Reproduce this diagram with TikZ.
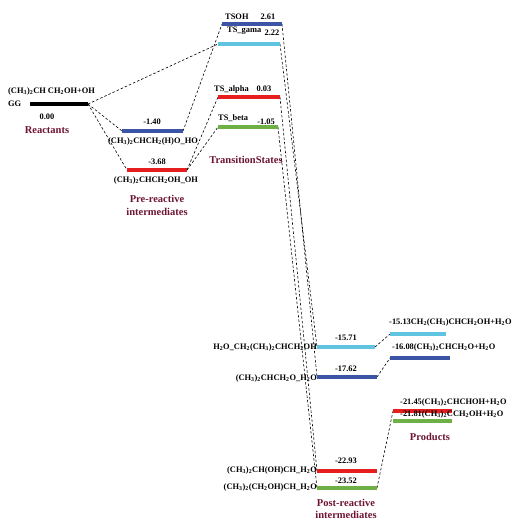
\documentclass[tikz,border=0pt]{standalone}
\usepackage{fontspec}
\setmainfont{Liberation Serif}
\newcommand{\sbs}[1]{\textsubscript{#1}}
\definecolor{cblue}{RGB}{60,84,165}
\definecolor{ccyan}{RGB}{96,196,224}
\definecolor{cred}{RGB}{230,30,30}
\definecolor{cgreen}{RGB}{110,176,70}
\definecolor{cmaroon}{RGB}{110,20,50}
\tikzset{
  bar/.style={line width=3.8pt},
  conn/.style={dash pattern=on 2.5pt off 2pt, line width=0.6pt, black},
  lab/.style={font=\fontsize{8.4}{9}\selectfont\bfseries, inner sep=0pt},
  grouplab/.style={font=\fontsize{10.5}{11}\selectfont\bfseries, text=cmaroon, inner sep=0pt},
}
\begin{document}
\begin{tikzpicture}[x=1pt,y=-1pt]
\useasboundingbox (0,0) rectangle (512,522);
% level end points
\coordinate (ggL) at (30,104);   \coordinate (ggR) at (88,104);
\coordinate (p1L) at (122,131);  \coordinate (p1R) at (183,131);
\coordinate (p2L) at (127,170);  \coordinate (p2R) at (187,170);
\coordinate (tohL) at (222,24);  \coordinate (tohR) at (282,24);
\coordinate (tgL) at (218,44);   \coordinate (tgR) at (280,44);
\coordinate (taL) at (218,97);   \coordinate (taR) at (280,97);
\coordinate (tbL) at (218,127);  \coordinate (tbR) at (278,127);
\coordinate (q1L) at (317,347);  \coordinate (q1R) at (375,347);
\coordinate (q2L) at (317,377);  \coordinate (q2R) at (377,377);
\coordinate (q3L) at (317,471);  \coordinate (q3R) at (377,471);
\coordinate (q4L) at (317,488);  \coordinate (q4R) at (377,488);
\coordinate (r1L) at (390,334);  \coordinate (r1R) at (446,334);
\coordinate (r2L) at (390,358);  \coordinate (r2R) at (450,358);
\coordinate (r3L) at (393,411);  \coordinate (r3R) at (452,411);
\coordinate (r4L) at (393,421);  \coordinate (r4R) at (452,421);
% connectors
\draw[conn] (ggR) -- (tgL);
\draw[conn] (ggR) -- (p1L);
\draw[conn] (ggR) -- (p2L);
\draw[conn] (p1R) -- (tohL);
\draw[conn] (p2R) -- (taL);
\draw[conn] (p2R) -- (tbL);
\draw[conn] (tohR) -- (q2L);
\draw[conn] (tgR) -- (q1L);
\draw[conn] (taR) -- (q3L);
\draw[conn] (tbR) -- (q4L);
\draw[conn] (q1R) -- (r1L);
\draw[conn] (q2R) -- (r2L);
\draw[conn] (q4R) -- (r3L);
% bars
\draw[bar,black] (ggL) -- (ggR);
\draw[bar,cblue] (p1L) -- (p1R);
\draw[bar,cred] (p2L) -- (p2R);
\draw[bar,cblue] (tohL) -- (tohR);
\draw[bar,ccyan] (tgL) -- (tgR);
\draw[bar,cred] (taL) -- (taR);
\draw[bar,cgreen] (tbL) -- (tbR);
\draw[bar,ccyan] (q1L) -- (q1R);
\draw[bar,cblue] (q2L) -- (q2R);
\draw[bar,cred] (q3L) -- (q3R);
\draw[bar,cgreen] (q4L) -- (q4R);
\draw[bar,ccyan] (r1L) -- (r1R);
\draw[bar,cblue] (r2L) -- (r2R);
\draw[bar,cred] (r3L) -- (r3R);
\draw[bar,cgreen] (r4L) -- (r4R);
% reactants
\node[lab,anchor=west] (tR1) at (8,91) {(CH\sbs{3})\sbs{2}CH CH\sbs{2}OH+OH};
\node[lab,anchor=west] (tGG) at (8,104) {GG};
\node[lab] (tR2) at (47,117) {0.00};
\node[grouplab] (cR) at (47,130) {Reactants};
% pre-reactive
\node[lab] (tP1e) at (152,122) {-1.40};
\node[lab] (tP1) at (153,141) {(CH\sbs{3})\sbs{2}CHCH\sbs{2}(H)O\_HO};
\node[lab] (tP2e) at (157,162) {-3.68};
\node[lab] (tP2) at (156,180) {(CH\sbs{3})\sbs{2}CHCH\sbs{2}OH\_OH};
\node[grouplab] (cP1) at (157,199) {Pre-reactive};
\node[grouplab] (cP2) at (157,212) {intermediates};
% transition states
\node[lab,anchor=west] (tT1) at (225,17) {TSOH};
\node[lab] (tT1e) at (268,17) {2.61};
\node[lab,anchor=west] (tT2) at (227,31) {TS\_gama};
\node[lab] (tT2e) at (272,33) {2.22};
\node[lab,anchor=west] (tT3) at (214,89) {TS\_alpha};
\node[lab] (tT3e) at (264,89) {0.03};
\node[lab,anchor=west] (tT4) at (218,118) {TS\_beta};
\node[lab] (tT4e) at (266,122) {-1.05};
\node[grouplab] (cT) at (246,160) {TransitionStates};
% post-reactive
\node[lab] (tQ1e) at (346,338) {-15.71};
\node[lab,anchor=east] (tQ1) at (317,347) {H\sbs{2}O\_CH\sbs{2}(CH\sbs{3})\sbs{2}CHCH\sbs{2}OH};
\node[lab] (tQ2e) at (346,369) {-17.62};
\node[lab,anchor=east] (tQ2) at (317,378) {(CH\sbs{3})\sbs{2}CHCH\sbs{2}O\_H\sbs{2}O};
\node[lab] (tQ3e) at (346,461) {-22.93};
\node[lab,anchor=east] (tQ3) at (317,470) {(CH\sbs{3})\sbs{2}CH(OH)CH\_H\sbs{2}O};
\node[lab] (tQ4e) at (346,481) {-23.52};
\node[lab,anchor=east] (tQ4) at (317,487) {(CH\sbs{3})\sbs{2}(CH\sbs{2}OH)CH\_H\sbs{2}O};
\node[grouplab] (cQ1) at (346,503) {Post-reactive};
\node[grouplab] (cQ2) at (346,515) {intermediates};
% products
\node[lab,anchor=west] (tS1) at (389,322) {-15.13CH\sbs{2}(CH\sbs{3})CHCH\sbs{2}OH+H\sbs{2}O};
\node[lab,anchor=west] (tS2) at (392,347) {-16.08(CH\sbs{3})\sbs{2}CHCH\sbs{2}O+H\sbs{2}O};
\node[lab,anchor=west] (tS3) at (400,402) {-21.45(CH\sbs{3})\sbs{2}CHCHOH+H\sbs{2}O};
\node[lab,anchor=west] (tS4) at (400,414) {-21.81(CH\sbs{3})\sbs{2}CCH\sbs{2}OH+H\sbs{2}O};
\node[grouplab] (cS) at (430,437) {Products};
\end{tikzpicture}
\end{document}
